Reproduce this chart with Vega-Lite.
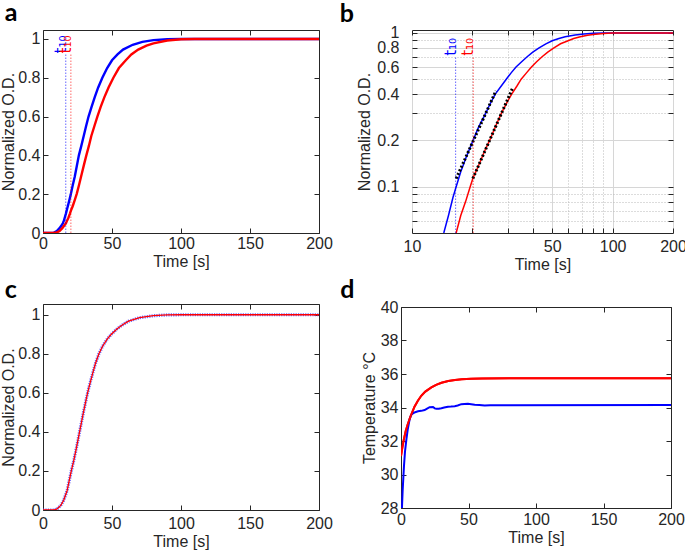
{
  "$schema": "https://vega.github.io/schema/vega-lite/v6.json",
  "padding": {"left": 0, "top": 0, "right": 0, "bottom": 0},
  "background": "white",
  "datasets": {
    "ab": [
      {"s":"blue","t":0,"v":0},{"s":"blue","t":5,"v":0},{"s":"blue","t":8,"v":0.002},{"s":"blue","t":10,"v":0.01},{"s":"blue","t":12,"v":0.025},{"s":"blue","t":13.5,"v":0.04},{"s":"blue","t":14.4,"v":0.05},{"s":"blue","t":15.2,"v":0.065},{"s":"blue","t":16,"v":0.085},{"s":"blue","t":16.6,"v":0.1},{"s":"blue","t":17.5,"v":0.125},{"s":"blue","t":18.7,"v":0.158},{"s":"blue","t":20,"v":0.195},{"s":"blue","t":21.5,"v":0.245},{"s":"blue","t":23,"v":0.29},{"s":"blue","t":24.5,"v":0.345},{"s":"blue","t":26,"v":0.4},{"s":"blue","t":27.8,"v":0.45},{"s":"blue","t":29.5,"v":0.5},{"s":"blue","t":31.2,"v":0.55},{"s":"blue","t":33,"v":0.6},{"s":"blue","t":35.2,"v":0.65},{"s":"blue","t":37.5,"v":0.7},{"s":"blue","t":40,"v":0.75},{"s":"blue","t":43,"v":0.8},{"s":"blue","t":46.5,"v":0.85},{"s":"blue","t":50,"v":0.89},{"s":"blue","t":54,"v":0.92},{"s":"blue","t":58,"v":0.945},{"s":"blue","t":65,"v":0.97},{"s":"blue","t":72,"v":0.985},{"s":"blue","t":80,"v":0.994},{"s":"blue","t":90,"v":0.998},{"s":"blue","t":100,"v":1},{"s":"blue","t":200,"v":1},
      {"s":"red","t":0,"v":0},{"s":"red","t":7,"v":0},{"s":"red","t":10,"v":0.003},{"s":"red","t":12,"v":0.01},{"s":"red","t":14,"v":0.025},{"s":"red","t":15.5,"v":0.04},{"s":"red","t":16.6,"v":0.05},{"s":"red","t":17.5,"v":0.065},{"s":"red","t":18.5,"v":0.08},{"s":"red","t":19.5,"v":0.1},{"s":"red","t":20.1,"v":0.113},{"s":"red","t":21.5,"v":0.138},{"s":"red","t":23,"v":0.17},{"s":"red","t":24.5,"v":0.203},{"s":"red","t":26.2,"v":0.25},{"s":"red","t":28,"v":0.303},{"s":"red","t":29.8,"v":0.355},{"s":"red","t":31.4,"v":0.4},{"s":"red","t":33.3,"v":0.45},{"s":"red","t":35,"v":0.5},{"s":"red","t":37.2,"v":0.55},{"s":"red","t":39.4,"v":0.6},{"s":"red","t":41.8,"v":0.65},{"s":"red","t":44.5,"v":0.7},{"s":"red","t":47.5,"v":0.75},{"s":"red","t":51,"v":0.8},{"s":"red","t":55,"v":0.85},{"s":"red","t":60,"v":0.89},{"s":"red","t":64,"v":0.92},{"s":"red","t":69,"v":0.945},{"s":"red","t":75,"v":0.965},{"s":"red","t":80,"v":0.977},{"s":"red","t":90,"v":0.992},{"s":"red","t":100,"v":0.998},{"s":"red","t":110,"v":1},{"s":"red","t":200,"v":1}
    ],
    "fit": [
      {"s":"blue","t":16.6,"v":0.113},{"s":"blue","t":26.2,"v":0.42},
      {"s":"red","t":20.1,"v":0.113},{"s":"red","t":31.6,"v":0.433}
    ],
    "t10": [{"s":"blue","t":16.5},{"s":"red","t":20.2}],
    "c": [
      {"t":0,"v":0},{"t":8,"v":0},{"t":9.5,"v":0.003},{"t":11,"v":0.01},{"t":13,"v":0.025},{"t":15,"v":0.05},{"t":17.5,"v":0.1},{"t":19,"v":0.15},{"t":20.5,"v":0.2},{"t":22.2,"v":0.25},{"t":23.7,"v":0.3},{"t":25.1,"v":0.35},{"t":26.5,"v":0.4},{"t":27.9,"v":0.45},{"t":29.3,"v":0.5},{"t":30.8,"v":0.55},{"t":32.3,"v":0.6},{"t":34.1,"v":0.65},{"t":36,"v":0.7},{"t":38,"v":0.75},{"t":40.5,"v":0.8},{"t":43.3,"v":0.84},{"t":46.5,"v":0.875},{"t":49.5,"v":0.9},{"t":54,"v":0.93},{"t":58,"v":0.95},{"t":62,"v":0.967},{"t":70,"v":0.985},{"t":80,"v":0.995},{"t":90,"v":0.999},{"t":100,"v":1},{"t":200,"v":1}
    ],
    "temp": [
      {"s":"red","t":0,"v":31.1},{"s":"red","t":1,"v":31.6},{"s":"red","t":2,"v":32.05},{"s":"red","t":3.5,"v":32.6},{"s":"red","t":5,"v":33.0},{"s":"red","t":7,"v":33.45},{"s":"red","t":10,"v":34.05},{"s":"red","t":12.5,"v":34.4},{"s":"red","t":15,"v":34.7},{"s":"red","t":18,"v":34.95},{"s":"red","t":22.5,"v":35.2},{"s":"red","t":26,"v":35.35},{"s":"red","t":30,"v":35.48},{"s":"red","t":35,"v":35.58},{"s":"red","t":40,"v":35.64},{"s":"red","t":45,"v":35.68},{"s":"red","t":52,"v":35.71},{"s":"red","t":60,"v":35.73},{"s":"red","t":80,"v":35.74},{"s":"red","t":200,"v":35.74},
      {"s":"blue","t":0.7,"v":28},{"s":"blue","t":1.2,"v":29},{"s":"blue","t":2.2,"v":30.5},{"s":"blue","t":3,"v":31.4},{"s":"blue","t":4,"v":32.1},{"s":"blue","t":5,"v":32.7},{"s":"blue","t":6.4,"v":33.3},{"s":"blue","t":7.5,"v":33.55},{"s":"blue","t":8.9,"v":33.65},{"s":"blue","t":10.5,"v":33.72},{"s":"blue","t":12.6,"v":33.77},{"s":"blue","t":15,"v":33.8},{"s":"blue","t":17.5,"v":33.85},{"s":"blue","t":19,"v":33.92},{"s":"blue","t":21.2,"v":34.02},{"s":"blue","t":23.7,"v":34.03},{"s":"blue","t":25,"v":33.95},{"s":"blue","t":26.2,"v":33.92},{"s":"blue","t":28,"v":33.93},{"s":"blue","t":29.9,"v":33.96},{"s":"blue","t":32,"v":34.0},{"s":"blue","t":34.8,"v":34.05},{"s":"blue","t":37,"v":34.06},{"s":"blue","t":39.8,"v":34.08},{"s":"blue","t":42,"v":34.12},{"s":"blue","t":44.7,"v":34.2},{"s":"blue","t":47,"v":34.21},{"s":"blue","t":49.6,"v":34.22},{"s":"blue","t":52,"v":34.2},{"s":"blue","t":54.6,"v":34.17},{"s":"blue","t":58,"v":34.15},{"s":"blue","t":62,"v":34.12},{"s":"blue","t":66,"v":34.13},{"s":"blue","t":80,"v":34.14},{"s":"blue","t":200,"v":34.15}
    ]
  },
  "config": {
    "view": {"stroke": "#262626", "strokeWidth": 1},
    "axis": {"labelFont": "Liberation Sans", "titleFont": "Liberation Sans", "labelFontSize": 16, "titleFontSize": 16, "titleFontWeight": "normal", "labelColor": "#262626", "titleColor": "#262626", "domain": false, "tickColor": "#262626", "tickSize": -5, "tickWidth": 1, "grid": false, "labelFlush": false, "labelOverlap": false},
    "title": {"anchor": "start", "frame": "bounds", "font": "Lato", "fontWeight": "bold", "fontSize": 25, "color": "#000000"}
  },
  "columns": 2,
  "align": "none",
  "spacing": {"row": 4, "column": 6},
  "concat": [
    {
      "title": {"text": "a", "offset": 4, "dx": 4},
      "width": 276, "height": 203,
      "layer": [
        {"data": {"name": "ab"},
         "mark": {"type": "line", "strokeWidth": 2.4, "clip": true},
         "encoding": {
           "x": {"field": "t", "type": "quantitative", "scale": {"domain": [0, 200], "nice": false, "zero": false}, "axis": {"orient": "bottom", "values": [0, 50, 100, 150, 200], "title": "Time [s]", "labelPadding": 7, "titlePadding": 2}},
           "y": {"field": "v", "type": "quantitative", "scale": {"domain": [0, 1.046], "nice": false}, "axis": {"orient": "left", "values": [0, 0.2, 0.4, 0.6, 0.8, 1], "format": "~g", "title": "Normalized O.D.", "labelPadding": 8, "titlePadding": 1}},
           "color": {"field": "s", "type": "nominal", "scale": {"domain": ["blue", "red"], "range": ["#0000ff", "#ff0000"]}, "legend": null}
         }},
        {"data": {"name": "t10"},
         "mark": {"type": "rule", "strokeDash": [1.5, 1.5], "strokeWidth": 1, "opacity": 0.6, "clip": true},
         "encoding": {
           "x": {"field": "t", "type": "quantitative", "scale": {"domain": [0, 200], "nice": false, "zero": false}, "axis": {"orient": "top", "values": [0, 50, 100, 150, 200], "labels": false, "title": null}},
           "y": {"datum": 0, "type": "quantitative", "scale": {"domain": [0, 1.046], "nice": false}, "axis": {"orient": "right", "values": [0, 0.2, 0.4, 0.6, 0.8, 1], "labels": false, "title": null}},
           "y2": {"datum": 0.925},
           "color": {"field": "s", "type": "nominal", "scale": {"domain": ["blue", "red"], "range": ["#0000ff", "#ff0000"]}, "legend": null}
         }},
        {"data": {"name": "t10"},
         "mark": {"type": "text", "angle": 270, "align": "left", "baseline": "alphabetic", "font": "DejaVu Sans", "fontSize": 15, "clip": true},
         "encoding": {
           "x": {"field": "t", "type": "quantitative", "scale": {"domain": [0, 200], "nice": false, "zero": false}, "axis": null},
           "y": {"datum": 0.925, "type": "quantitative", "scale": {"domain": [0, 1.046], "nice": false}, "axis": null},
           "text": {"value": "t₁₀"},
           "color": {"field": "s", "type": "nominal", "scale": {"domain": ["blue", "red"], "range": ["#0000ff", "#ff0000"]}, "legend": null}
         }}
      ],
      "resolve": {"axis": {"x": "independent", "y": "independent"}}
    },
    {
      "title": {"text": "b", "offset": -2, "dx": -17},
      "width": 261, "height": 203,
      "layer": [
        {"data": {"name": "ab"},
         "transform": [{"filter": "datum.v > 0"}],
         "mark": {"type": "line", "strokeWidth": 1.5, "clip": true},
         "encoding": {
           "x": {"field": "t", "type": "quantitative", "scale": {"type": "log", "domain": [10, 200], "nice": false}, "axis": {"orient": "bottom", "values": [10, 20, 30, 40, 50, 60, 70, 80, 90, 100, 200], "labelExpr": "indexof([10,50,100,200], datum.value) >= 0 ? format(datum.value, 'd') : ''", "title": "Time [s]", "labelPadding": 10, "titlePadding": 2, "grid": true, "gridColor": {"condition": {"test": "indexof([10,50,100,200], datum.value) >= 0", "value": "#d6d6d6"}, "value": "#b8b8b8"}, "gridDash": {"condition": {"test": "indexof([10,50,100,200], datum.value) >= 0", "value": []}, "value": [1, 2]}}},
           "y": {"field": "v", "type": "quantitative", "scale": {"type": "log", "domain": [0.05, 1.045], "nice": false}, "axis": {"orient": "left", "values": [0.06, 0.07, 0.08, 0.09, 0.1, 0.2, 0.3, 0.4, 0.5, 0.6, 0.7, 0.8, 0.9, 1], "labelExpr": "indexof([0.1,0.2,0.4,0.6,0.8,1], datum.value) >= 0 ? format(datum.value, '~g') : ''", "title": "Normalized O.D.", "labelPadding": 18, "titlePadding": 4, "grid": true, "gridColor": {"condition": {"test": "indexof([0.1,0.2,0.4,0.6,0.8,1], datum.value) >= 0", "value": "#d6d6d6"}, "value": "#b8b8b8"}, "gridDash": {"condition": {"test": "indexof([0.1,0.2,0.4,0.6,0.8,1], datum.value) >= 0", "value": []}, "value": [1, 2]}}},
           "color": {"field": "s", "type": "nominal", "scale": {"domain": ["blue", "red"], "range": ["#0000ff", "#ff0000"]}, "legend": null}
         }},
        {"data": {"name": "fit"},
         "mark": {"type": "line", "color": "#000000", "strokeDash": [2, 2], "strokeWidth": 3, "clip": true},
         "encoding": {
           "x": {"field": "t", "type": "quantitative", "scale": {"type": "log", "domain": [10, 200], "nice": false}, "axis": {"orient": "top", "values": [10, 20, 30, 40, 50, 60, 70, 80, 90, 100, 200], "labels": false, "title": null}},
           "y": {"field": "v", "type": "quantitative", "scale": {"type": "log", "domain": [0.05, 1.045], "nice": false}, "axis": {"orient": "right", "values": [0.06, 0.07, 0.08, 0.09, 0.1, 0.2, 0.3, 0.4, 0.5, 0.6, 0.7, 0.8, 0.9, 1], "labels": false, "title": null}},
           "detail": {"field": "s"}
         }},
        {"data": {"name": "t10"},
         "mark": {"type": "rule", "strokeDash": [1.5, 1.5], "strokeWidth": 1, "opacity": 0.6, "clip": true},
         "encoding": {
           "x": {"field": "t", "type": "quantitative", "scale": {"type": "log", "domain": [10, 200], "nice": false}, "axis": null},
           "y": {"datum": 0.05, "type": "quantitative", "scale": {"type": "log", "domain": [0.05, 1.045], "nice": false}, "axis": null},
           "y2": {"datum": 0.7},
           "color": {"field": "s", "type": "nominal", "scale": {"domain": ["blue", "red"], "range": ["#0000ff", "#ff0000"]}, "legend": null}
         }},
        {"data": {"name": "t10"},
         "mark": {"type": "text", "angle": 270, "align": "left", "baseline": "alphabetic", "font": "DejaVu Sans", "fontSize": 15, "clip": true},
         "encoding": {
           "x": {"field": "t", "type": "quantitative", "scale": {"type": "log", "domain": [10, 200], "nice": false}, "axis": null},
           "y": {"datum": 0.71, "type": "quantitative", "scale": {"type": "log", "domain": [0.05, 1.045], "nice": false}, "axis": null},
           "text": {"value": "t₁₀"},
           "color": {"field": "s", "type": "nominal", "scale": {"domain": ["blue", "red"], "range": ["#0000ff", "#ff0000"]}, "legend": null}
         }}
      ],
      "resolve": {"axis": {"x": "independent", "y": "independent"}}
    },
    {
      "title": {"text": "c", "offset": 1, "dx": 4},
      "width": 276, "height": 206,
      "layer": [
        {"data": {"name": "c"},
         "mark": {"type": "line", "strokeWidth": 3.2, "strokeDash": [1.2, 1.2], "color": "#4d4dff", "opacity": 0.85, "clip": true},
         "encoding": {
           "x": {"field": "t", "type": "quantitative", "scale": {"domain": [0, 200], "nice": false, "zero": false}, "axis": {"orient": "bottom", "values": [0, 50, 100, 150, 200], "title": "Time [s]", "labelPadding": 10, "titlePadding": 2}},
           "y": {"field": "v", "type": "quantitative", "scale": {"domain": [0, 1.055], "nice": false}, "axis": {"orient": "left", "values": [0, 0.2, 0.4, 0.6, 0.8, 1], "format": "~g", "title": "Normalized O.D.", "labelPadding": 8, "titlePadding": 1}}
         }},
        {"data": {"name": "c"},
         "mark": {"type": "line", "strokeWidth": 1.3, "color": "#ff0000", "clip": true},
         "encoding": {
           "x": {"field": "t", "type": "quantitative", "scale": {"domain": [0, 200], "nice": false, "zero": false}, "axis": {"orient": "top", "values": [0, 50, 100, 150, 200], "labels": false, "title": null}},
           "y": {"field": "v", "type": "quantitative", "scale": {"domain": [0, 1.055], "nice": false}, "axis": {"orient": "right", "values": [0, 0.2, 0.4, 0.6, 0.8, 1], "labels": false, "title": null}}
         }}
      ],
      "resolve": {"axis": {"x": "independent", "y": "independent"}}
    },
    {
      "title": {"text": "d", "offset": -4, "dx": -21},
      "width": 270, "height": 201,
      "layer": [
        {"data": {"name": "temp"},
         "mark": {"type": "line", "strokeWidth": 2, "clip": true},
         "encoding": {
           "x": {"field": "t", "type": "quantitative", "scale": {"domain": [0, 200], "nice": false, "zero": false}, "axis": {"orient": "bottom", "values": [0, 50, 100, 150, 200], "title": "Time [s]", "labelPadding": 8, "titlePadding": 2}},
           "y": {"field": "v", "type": "quantitative", "scale": {"domain": [28, 40], "nice": false, "zero": false}, "axis": {"orient": "left", "values": [28, 30, 32, 34, 36, 38, 40], "title": "Temperature °C", "labelPadding": 8, "titlePadding": 3}},
           "color": {"field": "s", "type": "nominal", "scale": {"domain": ["blue", "red"], "range": ["#0000ff", "#ff0000"]}, "legend": null}
         }},
        {"data": {"name": "temp"},
         "transform": [{"filter": "datum.s == 'red'"}],
         "mark": {"type": "line", "strokeWidth": 2, "color": "#ff0000", "clip": true},
         "encoding": {
           "x": {"field": "t", "type": "quantitative", "scale": {"domain": [0, 200], "nice": false, "zero": false}, "axis": {"orient": "top", "values": [0, 50, 100, 150, 200], "labels": false, "title": null}},
           "y": {"field": "v", "type": "quantitative", "scale": {"domain": [28, 40], "nice": false, "zero": false}, "axis": {"orient": "right", "values": [28, 30, 32, 34, 36, 38, 40], "labels": false, "title": null}}
         }}
      ],
      "resolve": {"axis": {"x": "independent", "y": "independent"}}
    }
  ]
}
